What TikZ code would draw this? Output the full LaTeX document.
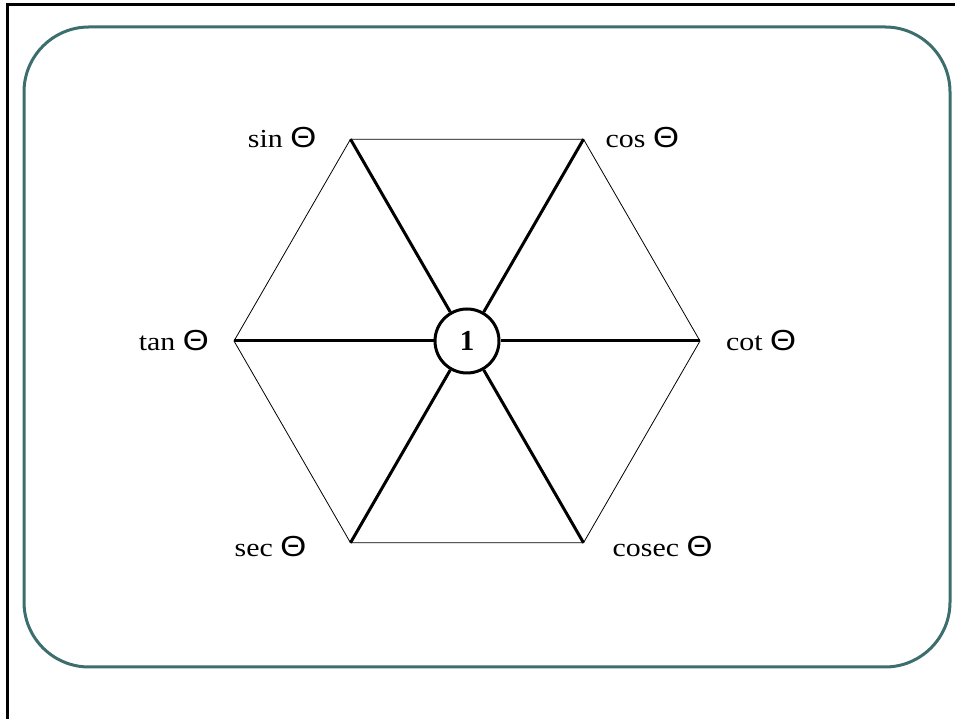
\documentclass[tikz,border=0pt]{standalone}
\usepackage{fontspec}
\setmainfont{Liberation Serif}
\newfontfamily\thetafont{Liberation Sans}
\usetikzlibrary{positioning,calc}
\definecolor{frameteal}{RGB}{60,110,110}
\newcommand{\trigfn}[1]{\scalebox{1.15}[1]{#1 {\thetafont\fontsize{29}{32}\selectfont Θ}}}
\tikzset{
  fnlabel/.style={font=\fontsize{26}{30}\selectfont,inner sep=0pt},
  spoke/.style={line width=3pt},
  rim/.style={line width=0.8pt},
  hub/.style={circle,draw,line width=3pt,minimum size=64pt,inner sep=0pt,
    fill=white,font=\fontsize{29}{32}\selectfont\bfseries}
}

\begin{document}
\begin{tikzpicture}[x=1pt,y=1pt]
  \useasboundingbox (0,0) rectangle (955,719);
  \draw[line width=3pt] (7,0) -- (7,714) -- (955,714);
  \draw[frameteal,line width=3pt,rounded corners=65pt] (24,52) rectangle (950,692);
  \node[hub] (one) at (467,378) {1};
  \foreach \vname/\ang in {cot/0,cos/60,sin/120,tan/180,sec/240,cosec/300}
    \coordinate (\vname) at ($(one)+(\ang:233)$);
  \draw[rim] (cot) -- (cos) -- (sin) -- (tan) -- (sec) -- (cosec) -- cycle;
  \foreach \vname in {cot,cos,sin,tan,sec,cosec}
    \draw[spoke] (one) -- (\vname);
  \node[fnlabel,left=34pt of sin,yshift=2pt] (sinlabel) {\trigfn{sin}};
  \node[fnlabel,right=22pt of cos,yshift=2pt] (coslabel) {\trigfn{cos}};
  \node[fnlabel,left=25pt of tan] (tanlabel) {\trigfn{tan}};
  \node[fnlabel,right=26pt of cot] (cotlabel) {\trigfn{cot}};
  \node[fnlabel,left=44pt of sec,yshift=-4pt] (seclabel) {\trigfn{sec}};
  \node[fnlabel,right=29pt of cosec,yshift=-4pt] (coseclabel) {\trigfn{cosec}};
\end{tikzpicture}
\end{document}
